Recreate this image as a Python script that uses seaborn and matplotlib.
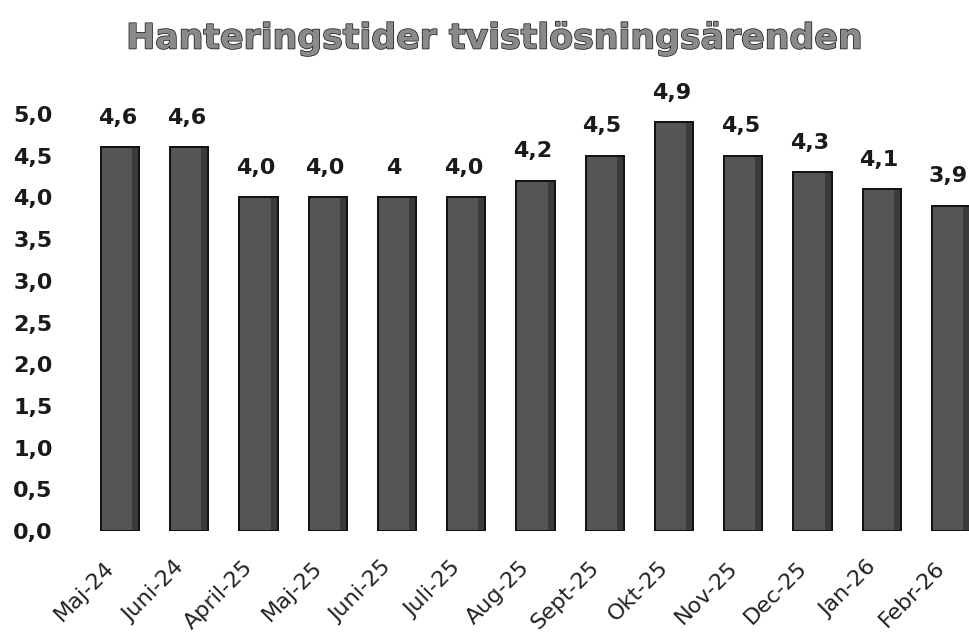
import matplotlib
matplotlib.use('Agg')
import matplotlib.pyplot as plt
import matplotlib.patheffects as pe
from matplotlib.transforms import ScaledTranslation
import seaborn as sns
import pandas as pd

months = ['Maj-24', 'Juni-24', 'April-25', 'Maj-25', 'Juni-25', 'Juli-25', 'Aug-25',
          'Sept-25', 'Okt-25', 'Nov-25', 'Dec-25', 'Jan-26', 'Febr-26']
values = [4.6, 4.6, 4.0, 4.0, 4.0, 4.0, 4.2, 4.5, 4.9, 4.5, 4.3, 4.1, 3.9]
value_labels = ['4,6', '4,6', '4,0', '4,0', '4', '4,0', '4,2', '4,5', '4,9', '4,5', '4,3', '4,1', '3,9']
yticks = [0.0, 0.5, 1.0, 1.5, 2.0, 2.5, 3.0, 3.5, 4.0, 4.5, 5.0]
ytick_labels = ['0,0', '0,5', '1,0', '1,5', '2,0', '2,5', '3,0', '3,5', '4,0', '4,5', '5,0']
title = 'Hanteringstider tvistlösningsärenden'

sns.set_theme(style='white')
plt.rcParams['font.family'] = ['DejaVu Sans']

fig = plt.figure(figsize=(9.69, 6.38), dpi=100)
ax = fig.add_axes([0.08, 0.1677, 0.92, 0.732])

df = pd.DataFrame({'Månad': months, 'Dagar': values})
sns.barplot(data=df, x='Månad', y='Dagar', color='#545654', saturation=1,
            edgecolor='#111111', linewidth=1.3, width=0.55, ax=ax)

# darker right-hand side strip for a slight 3D look
for patch in list(ax.patches):
    w = patch.get_width()
    ax.add_patch(plt.Rectangle((patch.get_x() + w * 0.82, 0), w * 0.18, patch.get_height(),
                               facecolor='#3a3c3a', edgecolor='none', zorder=patch.get_zorder() + 0.1))
    ax.add_patch(plt.Rectangle((patch.get_x(), 0), w, patch.get_height(),
                               facecolor='none', edgecolor='#111111', linewidth=1.3,
                               zorder=patch.get_zorder() + 0.2))

ax.set_xlim(-0.614, 12.26)
ax.set_ylim(0, 5.6)
ax.set_yticks(yticks)
ax.set_yticklabels(ytick_labels, fontsize=16, fontweight='bold', color='#1a1a1a')
ax.set_xticks(range(len(months)))
ax.set_xticklabels(months, fontsize=16, rotation=45, ha='right',
                   rotation_mode='anchor', va='top', color='#222222')
ax.tick_params(axis='y', length=0, pad=18)
ax.tick_params(axis='x', length=0, pad=19)
shift = ScaledTranslation(-0.16, 0, fig.dpi_scale_trans)
for lab in ax.get_xticklabels():
    lab.set_transform(lab.get_transform() + shift)
ax.set_xlabel('')
ax.set_ylabel('')
for s in ax.spines.values():
    s.set_visible(False)
ax.grid(False)

for i, lab in enumerate(value_labels):
    ax.annotate(lab, (i, values[i]), xytext=(-2, 14), textcoords='offset points',
                ha='center', va='bottom', fontsize=16, fontweight='bold',
                color='#1a1a1a', annotation_clip=False)

fig.text(0.51, 0.94, title, ha='center', va='center', fontsize=25,
         fontweight='bold', color='#8a8a8a',
         path_effects=[pe.withStroke(linewidth=1.1, foreground='#222222')])

fig.savefig('out.png', dpi=100)
